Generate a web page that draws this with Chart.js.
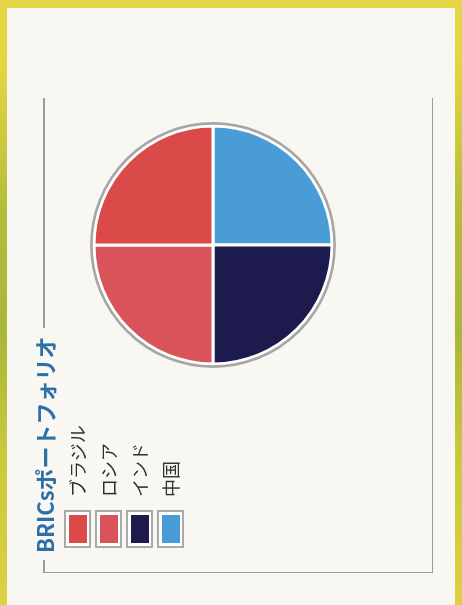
<!DOCTYPE html>
<html lang="ja">
<head>
<meta charset="utf-8">
<script src="https://cdn.jsdelivr.net/npm/chart.js@4/dist/chart.umd.min.js"></script>
<style>
  html, body { margin: 0; padding: 0; }
  body {
    width: 462px; height: 605px; position: relative; overflow: hidden;
    background:
      linear-gradient(180deg, #e6d645 0%, #e2d442 12%, #b3bd3a 35%, #a9b736 55%, #c9c93e 75%, #ddd044 100%);
  }
  .page {
    position: absolute; left: 7px; top: 8px; width: 448px; height: 597px;
    background: #f8f7f1;
  }
  .rule { position: absolute; background: #9c9c9c; }
  #chart { position: absolute; left: 0; top: 0; }
  .rot {
    position: absolute; left: 30px; top: 560px;
    transform-origin: 0 0; transform: rotate(-90deg);
    font-family: "Noto Sans CJK JP", "Noto Sans", sans-serif;
  }
  .title {
    position: absolute; left: 7px; top: 3px; white-space: nowrap;
    font-size: 22px; line-height: 22px; font-weight: 700; color: #2c6fa9;
  }
  .row { position: absolute; left: 12px; height: 27px; white-space: nowrap; }
  .sw {
    position: absolute; left: 0; top: 0; width: 34px; height: 23px;
    border: 2px solid #a9a9a9; background: #fff;
  }
  .sw i { position: absolute; left: 3px; top: 2.5px; width: 28px; height: 18px; }
  .lbl {
    position: absolute; left: 51px; top: 0; font-size: 18px; line-height: 27px;
    color: #2f2f2f; font-weight: 400;
  }
</style>
</head>
<body>
<div class="page"></div>
<!-- frame around the figure: left rule is broken by the title -->
<div class="rule" style="left:43px; top:98px; width:1.5px; height:230px;"></div>
<div class="rule" style="left:43px; top:560px; width:1.5px; height:13px;"></div>
<div class="rule" style="left:43px; top:571.5px; width:390px; height:1.5px;"></div>
<div class="rule" style="left:431.5px; top:98px; width:1.5px; height:475px;"></div>

<canvas id="chart" width="462" height="605"></canvas>

<div class="rot" id="side">
  <div class="title" id="title"></div>
</div>

<script>
// Portfolio split across the four BRICs markets
const chartTitle = 'BRICsポートフォリオ';
const countries = ['ブラジル', 'ロシア', 'インド', '中国'];
const weights = [25, 25, 25, 25];
const colors = ['#d94a49', '#d9545a', '#1d1b4d', '#4a9cd7'];

// Slices run counter-clockwise from the top in legend order,
// so feed them to the (clockwise) pie in reverse.
const order = countries.map((_, i) => countries.length - 1 - i);

// Grey outline ring around the pie
const ringPlugin = {
  id: 'ring',
  afterDatasetsDraw(chart) {
    const arc = chart.getDatasetMeta(0).data[0];
    if (!arc) return;
    const { x, y, outerRadius } = arc.getProps(['x', 'y', 'outerRadius'], true);
    const ctx = chart.ctx;
    ctx.save();
    ctx.beginPath();
    ctx.arc(x, y, outerRadius + 2.6, 0, Math.PI * 2);
    ctx.lineWidth = 2.6;
    ctx.strokeStyle = '#a6a6a6';
    ctx.stroke();
    ctx.restore();
  }
};

new Chart(document.getElementById('chart'), {
  type: 'pie',
  data: {
    labels: order.map(i => countries[i]),
    datasets: [{
      data: order.map(i => weights[i]),
      backgroundColor: order.map(i => colors[i]),
      borderColor: '#ffffff',
      borderWidth: 3
    }]
  },
  options: {
    responsive: false,
    animation: false,
    radius: 119,
    layout: { padding: { left: 93, right: 129, top: 125, bottom: 240 } },
    plugins: {
      legend: { display: false },
      tooltip: { enabled: false },
      title: { display: false }
    }
  },
  plugins: [ringPlugin]
});

// Rotated title and legend along the lower-left edge
const side = document.getElementById('side');
document.getElementById('title').textContent = chartTitle;
countries.forEach((name, i) => {
  const row = document.createElement('div');
  row.className = 'row';
  row.style.top = (34 + 31 * i) + 'px';
  const sw = document.createElement('div');
  sw.className = 'sw';
  const fill = document.createElement('i');
  fill.style.background = colors[i];
  sw.appendChild(fill);
  const lbl = document.createElement('span');
  lbl.className = 'lbl';
  lbl.textContent = name;
  row.appendChild(sw);
  row.appendChild(lbl);
  side.appendChild(row);
});
</script>
</body>
</html>
